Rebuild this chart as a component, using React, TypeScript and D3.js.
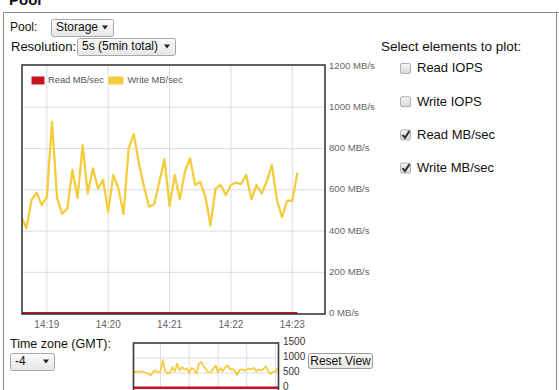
import React from "react";
import * as d3 from "d3";

// ---- data ----
const startTime = new Date(2015, 0, 1, 14, 18, 5);
const stepSeconds = 5;
const writeMB: number[] = [
  548, 556, 540, 552, 530, 505,
  470, 413, 551, 586, 526, 564, 930, 560, 483, 510,
  696, 560, 817, 583, 704, 607, 648, 494, 672, 607,
  483, 801, 870, 728, 615, 518, 530, 639, 748, 521,
  672, 554, 688, 753, 623, 639, 567, 428, 607, 623,
  575, 623, 635, 628, 672, 554, 623, 583, 640, 720,
  551, 467, 547, 547, 683,
];
const readMB: number[] = writeMB.map(() => 0);
const times: Date[] = writeMB.map((_, i) => new Date(startTime.getTime() + i * stepSeconds * 1000));

const mainYTicks = [0, 200, 400, 600, 800, 1000, 1200];
const miniYTicks = [0, 500, 1000, 1500];
const minuteTicks = [19, 20, 21, 22, 23].map((m) => new Date(2015, 0, 1, 14, m, 0));
const checkItems = [
  { label: "Read IOPS", checked: false },
  { label: "Write IOPS", checked: false },
  { label: "Read MB/sec", checked: true },
  { label: "Write MB/sec", checked: true },
];
const seriesNames = ["Read MB/sec", "Write MB/sec"];

const RED = "#c8121f";
const YELLOW = "#f4cd3f";
const FONT = "'Liberation Sans', Arial, sans-serif";

function SelectBox({ x, y, w, h, text }: { x: number; y: number; w: number; h: number; text: string }) {
  return (
    <g>
      <rect x={x + 0.5} y={y + 0.5} width={w} height={h} rx={2} fill="url(#selGrad)" stroke="#a8a8a8" />
      <text x={x + 5} y={y + h / 2 + 0.5} fontSize={12} dominantBaseline="middle" fill="#111" fontFamily={FONT}>
        {text}
      </text>
      <path d={`M${x + w - 11},${y + h / 2 - 2} L${x + w - 5},${y + h / 2 - 2} L${x + w - 8},${y + h / 2 + 2} Z`} fill="#222" />
    </g>
  );
}

export default function App() {
  // main chart
  const mL = 22, mR = 325, mT = 65, mB = 314;
  const x = d3
    .scaleTime()
    .domain([new Date(2015, 0, 1, 14, 18, 35), new Date(2015, 0, 1, 14, 23, 32)])
    .range([21.3, 325]);
  const y = d3.scaleLinear().domain([0, 1200]).range([313.6, 66]);
  const line = d3
    .line<number>()
    .x((_, i) => x(times[i]))
    .y((d) => y(d));

  // mini chart
  const nL = 133.5, nR = 278.5, nT = 343, nB = 389;
  const xm = d3.scaleTime().domain([times[0], times[times.length - 1]]).range([134, 278]);
  const ym = d3.scaleLinear().domain([0, 1500]).range([388, 343]);
  const miniLine = d3
    .line<number>()
    .x((_, i) => xm(times[i]))
    .y((d) => ym(d));

  const fmt = d3.timeFormat("%H:%M");

  return (
    <svg
      width={559}
      height={390}
      style={{ position: "fixed", left: 0, top: 0, background: "#fff" }}
      fontFamily={FONT}
    >
      <defs>
        <linearGradient id="selGrad" x1="0" y1="0" x2="0" y2="1">
          <stop offset="0" stopColor="#fbfbfb" />
          <stop offset="1" stopColor="#e6e6e6" />
        </linearGradient>
        <linearGradient id="cbGrad" x1="0" y1="0" x2="0" y2="1">
          <stop offset="0" stopColor="#f4f4f4" />
          <stop offset="1" stopColor="#d8d8d8" />
        </linearGradient>
        <clipPath id="mainClip">
          <rect x={mL} y={mT} width={mR - mL} height={mB - mT} />
        </clipPath>
        <clipPath id="miniClip">
          <rect x={nL} y={nT} width={nR - nL} height={nB - nT} />
        </clipPath>
      </defs>
      <rect x={0} y={0} width={559} height={390} fill="#fff" />

      {/* panel frame */}
      <text x={9} y={5} fontSize={15} fontWeight="bold" fill="#111">Pool</text>
      <line x1={3.5} y1={12.5} x2={559} y2={12.5} stroke="#8a8a8a" />
      <line x1={3.5} y1={12.5} x2={3.5} y2={390} stroke="#8a8a8a" />
      <line x1={556.5} y1={12.5} x2={556.5} y2={390} stroke="#8a8a8a" />

      {/* controls */}
      <text x={10} y={28} fontSize={12} dominantBaseline="middle" fill="#111">Pool:</text>
      <SelectBox x={51} y={19} w={62} h={17} text="Storage" />
      <text x={11} y={47.5} fontSize={13} dominantBaseline="middle" fill="#111">Resolution:</text>
      <SelectBox x={77} y={38} w={98} h={17} text="5s (5min total)" />

      <text x={381} y={47} fontSize={13.5} dominantBaseline="middle" fill="#111">Select elements to plot:</text>
      {checkItems.map((c, i) => {
        const cy = 63 + i * 33.2;
        return (
          <g key={c.label}>
            <rect x={400.5} y={cy + 0.5} width={10} height={10} rx={1.5} fill="url(#cbGrad)" stroke="#b0b0b0" />
            {c.checked && (
              <path d={`M402.5,${cy + 5.5} L405,${cy + 8.5} L409.5,${cy + 1.5}`} fill="none" stroke="#333" strokeWidth={2} />
            )}
            <text x={417} y={cy + 6} fontSize={13} dominantBaseline="middle" fill="#111">{c.label}</text>
          </g>
        );
      })}

      {/* main chart grid */}
      {mainYTicks.filter((t) => t > 0 && t < 1200).map((t) => (
        <line key={t} x1={mL} x2={mR} y1={y(t)} y2={y(t)} stroke="#dcdcdc" />
      ))}
      {minuteTicks.map((t) => (
        <line key={t.getTime()} x1={x(t)} x2={x(t)} y1={mT} y2={mB} stroke="#dcdcdc" />
      ))}

      {/* series */}
      <g clipPath="url(#mainClip)">
        <path d={line(writeMB) || ""} fill="none" stroke={YELLOW} strokeWidth={2.3} strokeLinejoin="round" />
        <path d={line(readMB) || ""} fill="none" stroke={RED} strokeWidth={3} />
      </g>
      <rect x={mL} y={mT} width={mR - mL} height={mB - mT} fill="none" stroke="#3a3a3a" strokeWidth={1.6} />

      {/* legend */}
      <rect x={31.5} y={76.5} width={13} height={8} fill={RED} />
      <text x={48} y={81} fontSize={9.3} dominantBaseline="middle" fill="#555">{seriesNames[0]}</text>
      <rect x={108.5} y={76.5} width={15} height={8} fill={YELLOW} />
      <text x={127.5} y={81} fontSize={9.3} dominantBaseline="middle" fill="#555">{seriesNames[1]}</text>

      {/* axes labels */}
      {mainYTicks.map((t) => (
        <text key={t} x={329} y={y(t)} fontSize={9.6} dominantBaseline="middle" fill="#666">
          {t} MB/s
        </text>
      ))}
      {minuteTicks.map((t) => (
        <text key={t.getTime()} x={x(t)} y={325} fontSize={10} textAnchor="middle" dominantBaseline="middle" fill="#666">
          {fmt(t)}
        </text>
      ))}

      {/* time zone */}
      <text x={10} y={345} fontSize={12.5} dominantBaseline="middle" fill="#111">Time zone (GMT):</text>
      <SelectBox x={10} y={353} w={44} h={17} text="-4" />

      {/* mini chart */}
      {miniYTicks.filter((t) => t > 0 && t < 1500).map((t) => (
        <line key={t} x1={nL} x2={nR} y1={ym(t)} y2={ym(t)} stroke="#dcdcdc" />
      ))}
      {minuteTicks.map((t) => (
        <line key={t.getTime()} x1={xm(t)} x2={xm(t)} y1={nT} y2={nB} stroke="#dcdcdc" />
      ))}
      <g clipPath="url(#miniClip)">
        <path d={miniLine(writeMB) || ""} fill="none" stroke={YELLOW} strokeWidth={1.8} strokeLinejoin="round" />
        <path d={miniLine(readMB) || ""} fill="none" stroke={RED} strokeWidth={3} />
      </g>
      <rect x={nL} y={nT} width={nR - nL} height={nB - nT + 4} fill="none" stroke="#3a3a3a" strokeWidth={1.6} />
      {miniYTicks.map((t) => (
        <text key={t} x={283} y={ym(t) - 1} fontSize={10} dominantBaseline="middle" fill="#333">{t}</text>
      ))}

      {/* reset button */}
      <rect x={308.5} y={353.5} width={64} height={15} rx={2} fill="url(#selGrad)" stroke="#9a9a9a" />
      <text x={340.5} y={361.5} fontSize={12} textAnchor="middle" dominantBaseline="middle" fill="#111">Reset View</text>
    </svg>
  );
}
